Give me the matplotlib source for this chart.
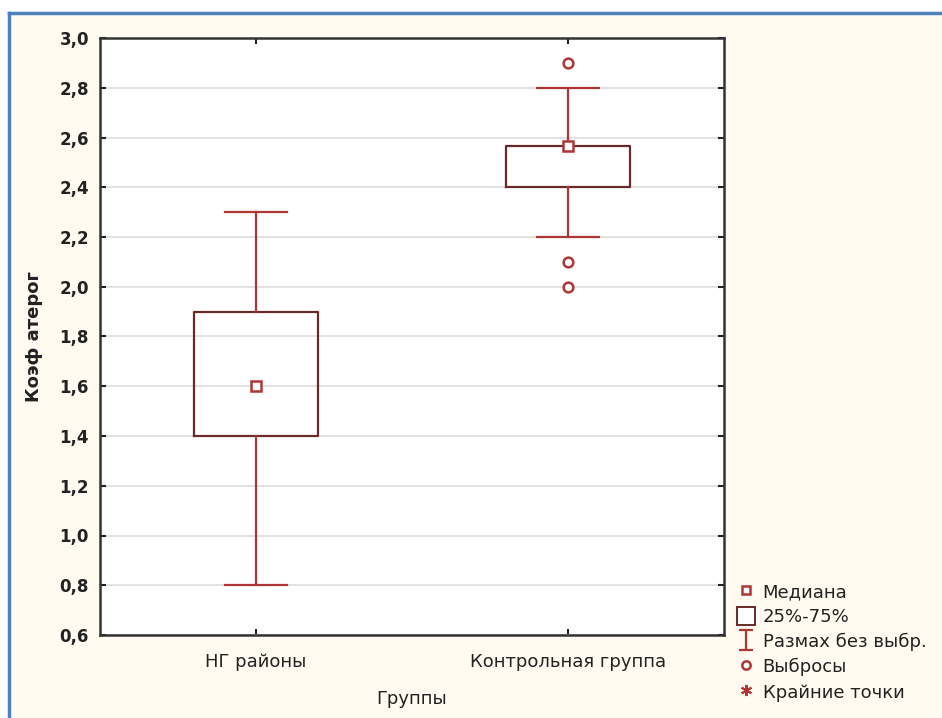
import numpy as np
import matplotlib.pyplot as plt
from matplotlib.lines import Line2D
from matplotlib.patches import Rectangle
from matplotlib.path import Path
from matplotlib.ticker import FuncFormatter, MultipleLocator

# Data
groups = ["НГ районы", "Контрольная группа"]
medians = [1.6, 2.565]
q1 = [1.4, 2.4]
q3 = [1.9, 2.565]
whis_lo = [0.8, 2.2]
whis_hi = [2.3, 2.8]
outliers = [[], [2.9, 2.1, 2.0]]

red = "#b03535"
dark = "#6a2a2a"
txt = "#222222"
bg = "#fffbf0"

plt.rcParams["font.family"] = ["DejaVu Sans"]

fig = plt.figure(figsize=(9.42, 7.18), dpi=100, facecolor=bg)
ax = fig.add_axes([100 / 942, 1 - 635 / 718, 624 / 942, 597 / 718])
ax.set_facecolor("white")

stats = []
for i in range(len(groups)):
    stats.append(dict(med=medians[i], q1=q1[i], q3=q3[i], whislo=whis_lo[i],
                      whishi=whis_hi[i], fliers=outliers[i], label=groups[i]))

pos = np.arange(len(groups))
ax.bxp(stats, positions=pos, widths=0.4, capwidths=0.2,
       boxprops=dict(color=dark, linewidth=1.6),
       whiskerprops=dict(color=red, linewidth=1.6),
       capprops=dict(color=red, linewidth=1.6),
       medianprops=dict(linewidth=0),
       flierprops=dict(marker="o", markerfacecolor="white", markeredgecolor=red,
                       markersize=7, markeredgewidth=1.8),
       zorder=3)
ax.plot(pos, medians, linestyle="", marker="s", markersize=7,
        markerfacecolor="white", markeredgecolor=red, markeredgewidth=1.8, zorder=4)

ax.set_xlim(-0.5, 1.5)
ax.set_ylim(0.6, 3.0)
ax.yaxis.set_major_locator(MultipleLocator(0.2))
ax.yaxis.set_major_formatter(FuncFormatter(lambda v, p: f"{v:.1f}".replace(".", ",")))
ax.set_xticks(pos)
ax.set_xticklabels(groups, fontsize=13, color=txt)
ax.grid(axis="y", color="#dddddd", linewidth=1.2, zorder=0)
ax.set_axisbelow(True)
ax.tick_params(direction="in", length=4, width=1.5, top=True, right=True,
               colors="#222222")
ax.tick_params(axis="y", labelsize=12, pad=8)
ax.tick_params(axis="x", pad=13)
for lab in ax.get_yticklabels():
    lab.set_fontweight("bold")
    lab.set_color(txt)
for s in ax.spines.values():
    s.set_linewidth(1.8)
    s.set_color("#333333")

ax.set_ylabel("Коэф атерог", fontsize=13, fontweight="bold", color=txt, labelpad=12)
ax.set_xlabel("Группы", fontsize=13, color=txt, labelpad=14)

# legend like Statistica
ibar = Path([(-0.7, -1), (0.7, -1), (0, -1), (0, 1), (-0.7, 1), (0.7, 1)],
            [Path.MOVETO, Path.LINETO, Path.MOVETO, Path.LINETO, Path.MOVETO, Path.LINETO])
handles = [
    Line2D([], [], linestyle="", marker="s", markersize=6, markerfacecolor="white",
           markeredgecolor=red, markeredgewidth=1.8),
    Rectangle((0, 0), 1, 1, facecolor="white", edgecolor=dark, linewidth=1.4),
    Line2D([], [], linestyle="", marker=ibar, markersize=15, color=red, markeredgewidth=1.6),
    Line2D([], [], linestyle="", marker="o", markersize=6, markerfacecolor="white",
           markeredgecolor=red, markeredgewidth=1.8),
    Line2D([], [], linestyle="", marker=(6, 2, 0), markersize=8, color=red,
           markeredgewidth=1.4),
]
labels = ["Медиана", "25%-75%", "Размах без выбр.", "Выбросы", "Крайние точки"]
fig.legend(handles, labels, loc="upper left", bbox_to_anchor=(721 / 942, 1 - 566 / 718),
           frameon=False, fontsize=13, handlelength=1.0, handletextpad=0.4,
           labelspacing=0.35, handleheight=1.1, labelcolor=txt)

# blue frame
fig.add_artist(Line2D([9 / 942, 9 / 942], [0, 1 - 13 / 718], transform=fig.transFigure,
                      color="#4f81bd", linewidth=2.5))
fig.add_artist(Line2D([9 / 942, 1], [1 - 13 / 718, 1 - 13 / 718], transform=fig.transFigure,
                      color="#4f81bd", linewidth=2.5))
fig.add_artist(Rectangle((0, 1 - 12 / 718), 1, 12 / 718, transform=fig.transFigure,
                         facecolor="white", edgecolor="none", zorder=-1))
fig.add_artist(Rectangle((0, 0), 8 / 942, 1, transform=fig.transFigure,
                         facecolor="white", edgecolor="none", zorder=-1))

fig.savefig("out.png", dpi=100, facecolor=bg)
